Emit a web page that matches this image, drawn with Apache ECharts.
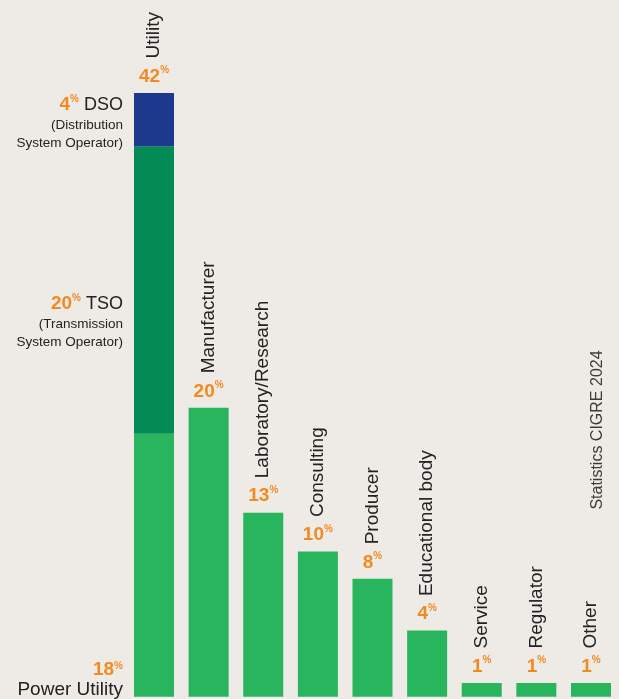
<!DOCTYPE html>
<html>
<head>
<meta charset="utf-8">
<script src="https://cdn.jsdelivr.net/npm/echarts@6/dist/echarts.min.js"></script>
<style>
  html, body { margin: 0; padding: 0; background: #eeebe6; }
  #chart { width: 619px; height: 699px; }
</style>
</head>
<body>
<div id="chart"></div>
<script>
// categories along the x axis
var categories = ['Utility', 'Manufacturer', 'Laboratory/Research', 'Consulting', 'Producer',
                  'Educational body', 'Service', 'Regulator', 'Other'];
// printed share labels (%)
var shareLabels = [42, 20, 13, 10, 8, 4, 1, 1, 1];
// bar heights (%)
var baseValues = [18.3, 20.1, 12.8, 10.1, 8.2, 4.6, 0.95, 0.95, 0.95];
var tsoValues  = [20.0, '-', '-', '-', '-', '-', '-', '-', '-'];
var dsoValues  = [3.7, '-', '-', '-', '-', '-', '-', '-', '-'];
// utility breakdown labels
var powerUtilityLabel = 18;
var tsoLabel = 20;
var dsoLabel = 4;

var orange = '#f28a22';
var sans = "'Liberation Sans', Arial, sans-serif";

var totals = categories.map(function (c, i) {
    var t = baseValues[i];
    if (tsoValues[i] !== '-') t += tsoValues[i];
    if (dsoValues[i] !== '-') t += dsoValues[i];
    return t;
});

var annotRich = {
    n: { fontFamily: sans, fontWeight: 'bold', fontSize: 19, color: orange, lineHeight: 22 },
    p: { fontFamily: sans, fontWeight: 'bold', fontSize: 10, color: orange, lineHeight: 13, verticalAlign: 'top' },
    n26: { fontFamily: sans, fontWeight: 'bold', fontSize: 19, color: orange, lineHeight: 26 },
    p26: { fontFamily: sans, fontWeight: 'bold', fontSize: 10, color: orange, lineHeight: 13, verticalAlign: 'top', padding: [5, 0, 0, 0] },
    t: { fontFamily: sans, fontSize: 18, color: '#222', lineHeight: 22 },
    b: { fontFamily: sans, fontSize: 13.5, color: '#222', lineHeight: 18 },
    big: { fontFamily: sans, fontSize: 19, color: '#222', lineHeight: 14 }
};

var chart = echarts.init(document.getElementById('chart'));

chart.setOption({
    backgroundColor: '#eeebe6',
    animation: false,
    grid: { left: 126.7, width: 491.6, top: 93, bottom: 2.3 },
    xAxis: {
        type: 'category',
        data: categories,
        show: false
    },
    yAxis: {
        type: 'value',
        min: 0,
        max: 42,
        show: false
    },
    graphic: [{
        type: 'text',
        x: 606,
        y: 430,
        rotation: Math.PI / 2,
        style: {
            text: 'Statistics CIGRE 2024',
            font: '16px ' + sans,
            fill: '#3c3c3c',
            align: 'center',
            verticalAlign: 'bottom'
        }
    }],
    series: [
        {
            name: 'Power Utility',
            type: 'bar',
            stack: 'u',
            barWidth: 40,
            itemStyle: { color: '#29b45e' },
            data: baseValues.map(function (v, i) {
                if (i !== 0) return v;
                return {
                    value: v,
                    label: {
                        show: true,
                        position: [-11, '100%'],
                        align: 'right',
                        verticalAlign: 'bottom',
                        formatter: '{n26|' + powerUtilityLabel + '}{p26|%}\n{big|Power Utility}',
                        rich: annotRich
                    }
                };
            })
        },
        {
            name: 'TSO',
            type: 'bar',
            stack: 'u',
            barWidth: 40,
            itemStyle: { color: '#038a55' },
            data: tsoValues.map(function (v, i) {
                if (i !== 0) return v;
                return {
                    value: v,
                    label: {
                        show: true,
                        position: [-11, '51%'],
                        align: 'right',
                        verticalAlign: 'top',
                        formatter: '{n|' + tsoLabel + '}{p|%}{t| TSO}\n{b|(Transmission}\n{b|System Operator)}',
                        rich: annotRich
                    }
                };
            })
        },
        {
            name: 'DSO',
            type: 'bar',
            stack: 'u',
            barWidth: 40,
            itemStyle: { color: '#1d398b' },
            data: dsoValues.map(function (v, i) {
                if (i !== 0) return v;
                return {
                    value: v,
                    label: {
                        show: true,
                        position: [-11, 1],
                        align: 'right',
                        verticalAlign: 'top',
                        formatter: '{n|' + dsoLabel + '}{p|%}{t| DSO}\n{b|(Distribution}\n{b|System Operator)}',
                        rich: annotRich
                    }
                };
            })
        },
        {
            name: 'share',
            type: 'scatter',
            symbolSize: 1,
            itemStyle: { color: 'rgba(0,0,0,0)', opacity: 1 },
            silent: true,
            data: totals,
            label: {
                show: true,
                position: 'top',
                distance: 5,
                formatter: function (p) { return '{n|' + shareLabels[p.dataIndex] + '}{p|%}'; },
                rich: annotRich
            }
        },
        {
            name: 'names',
            type: 'scatter',
            symbolSize: 1,
            itemStyle: { color: 'rgba(0,0,0,0)', opacity: 1 },
            silent: true,
            data: totals,
            label: {
                show: true,
                position: 'top',
                distance: 34,
                rotate: 90,
                align: 'left',
                verticalAlign: 'middle',
                fontFamily: sans,
                fontSize: 19,
                color: '#222',
                formatter: function (p) { return categories[p.dataIndex]; }
            }
        }
    ]
});
</script>
</body>
</html>
